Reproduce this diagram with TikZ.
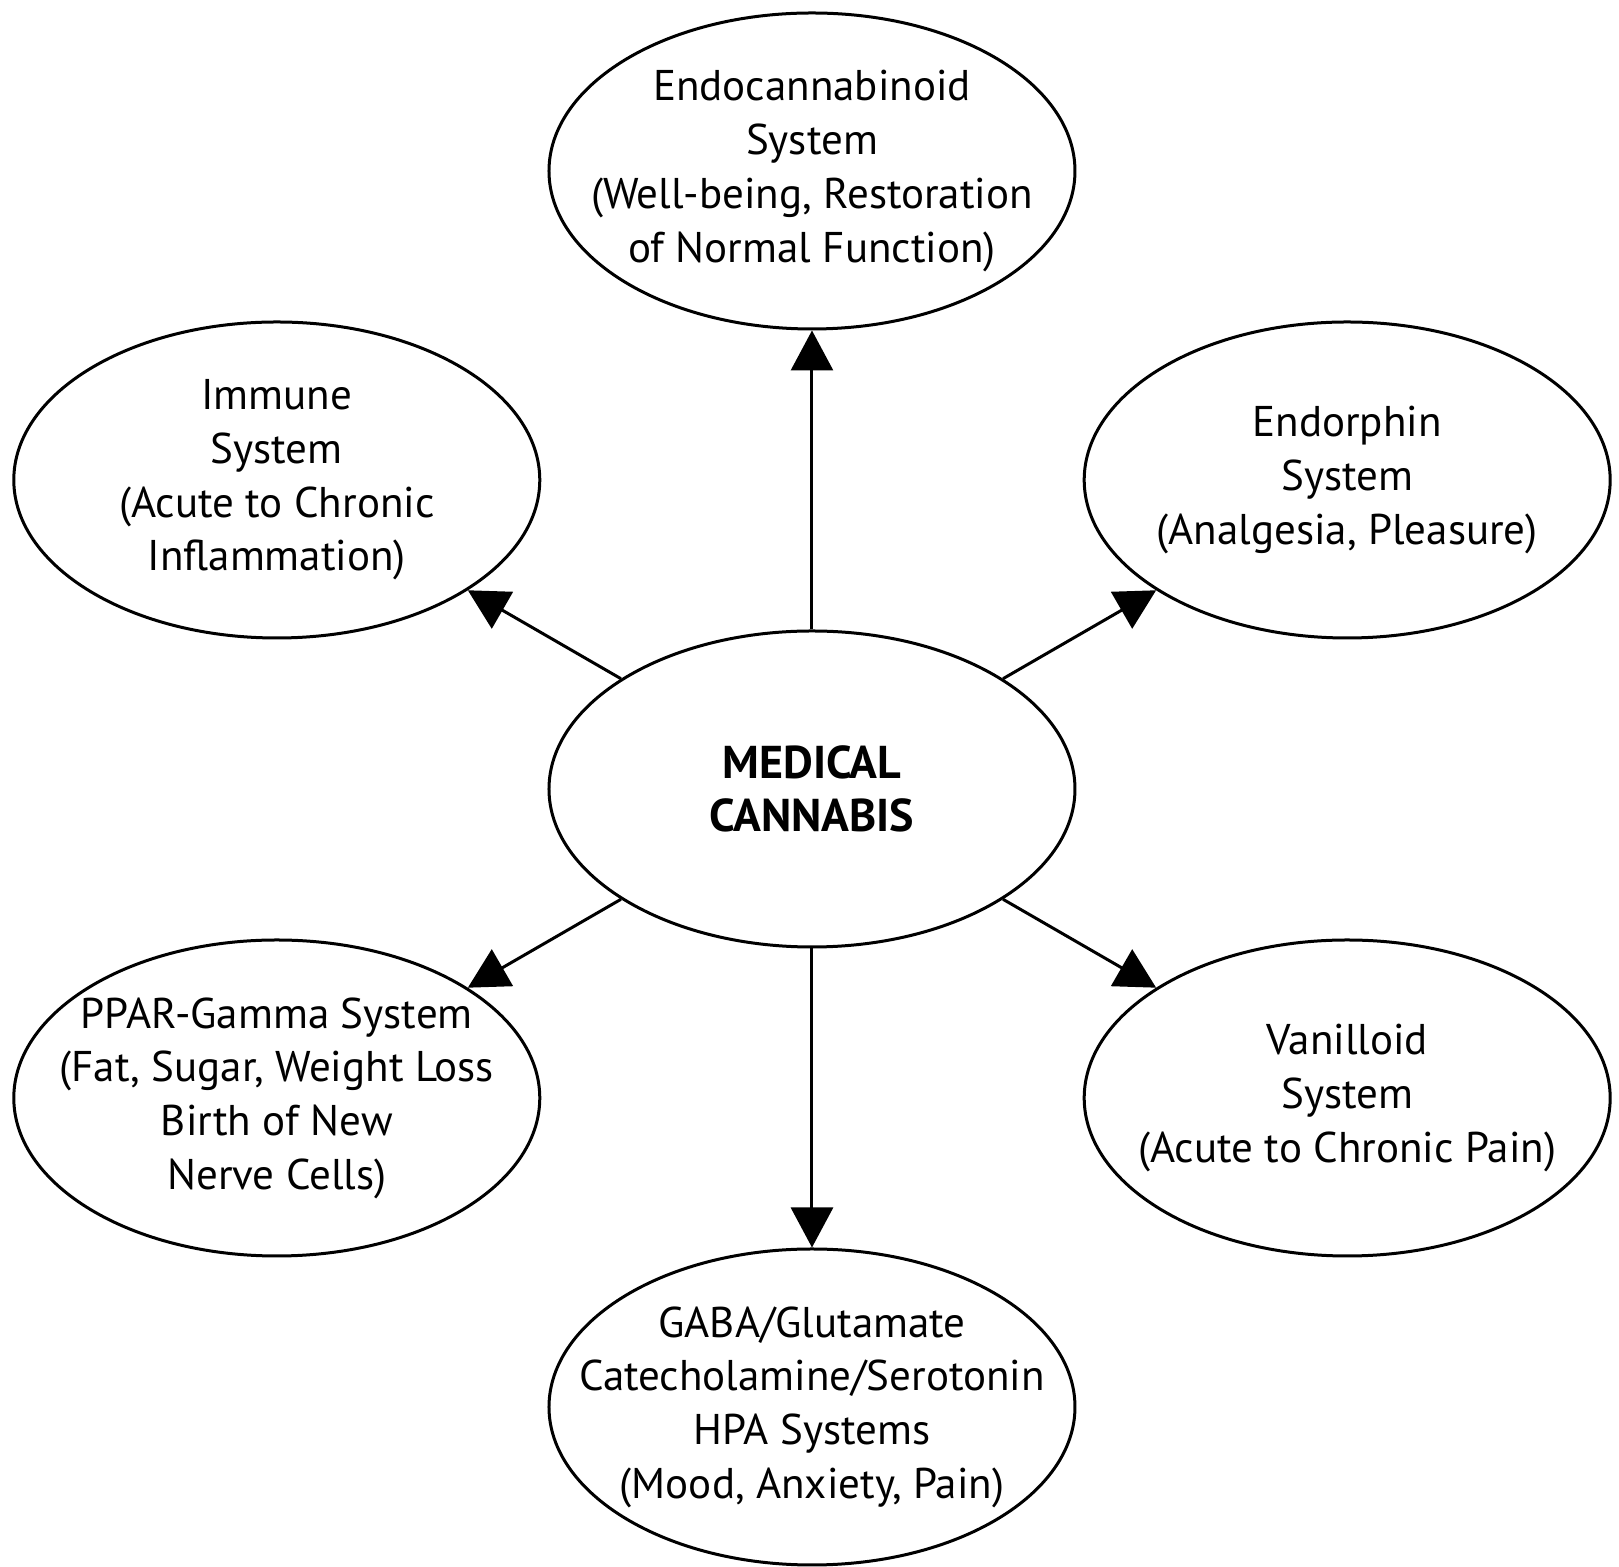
\documentclass[tikz,border=0pt]{standalone}
\usepackage{fontspec}
\setmainfont{PT Sans}
\usetikzlibrary{shapes.geometric,arrows.meta,positioning}
\tikzset{
  sysnode/.style = {shape=ellipse, draw, line width=1.5pt, align=center,
                    minimum width=263pt, minimum height=158pt,
                    inner xsep=-60pt, inner ysep=-20pt},
  hubnode/.style = {sysnode, font=\fontsize{23}{26.85}\selectfont\bfseries},
}

\begin{document}
\begin{tikzpicture}[
        x = 0.5pt, y = 0.5pt,
        level distance          = 309pt,
        sibling distance        = 0pt,
        edge from parent/.style = {draw, line width=1.5pt, -{Triangle[width=21pt,length=20pt]}},
        every node/.style       = {font=\fontsize{21.5}{26.85}\selectfont}
    ]
    \useasboundingbox[fill=white] (-812,-778) rectangle (807,789);
    \node [hubnode] (cannabis) {MEDICAL\\CANNABIS}
    child[grow=90]{ node [sysnode] (endo) {Endocannabinoid\\System\\(Well-being, Restoration\\of Normal Function)}}
    child[grow=30]{ node [sysnode] (endorphin) {Endorphin\\System\\(Analgesia, Pleasure)}}
    child[grow=-30]{ node [sysnode] (vanilloid) {Vanilloid\\System\\(Acute to Chronic Pain)}}
    child[grow=-90]{ node [sysnode] (gaba) {GABA/Glutamate\\Catecholamine/Serotonin\\HPA Systems\\(Mood, Anxiety, Pain)}}
    child[grow=-150]{ node [sysnode] (ppar) {PPAR-Gamma System\\(Fat, Sugar, Weight Loss\\Birth of New\\Nerve Cells)}}
    child[grow=150]{ node [sysnode] (immune) {Immune\\System\\(Acute to Chronic\\Inflammation)}};
\end{tikzpicture}
\end{document}
